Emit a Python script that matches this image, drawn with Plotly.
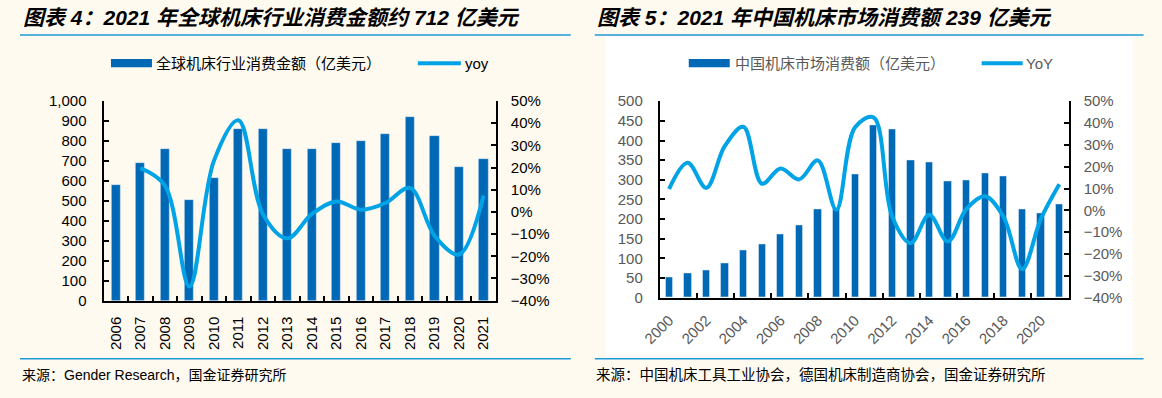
import plotly.graph_objects as go

# ---------------- data ----------------
years_g = [2006, 2007, 2008, 2009, 2010, 2011, 2012, 2013, 2014, 2015, 2016, 2017, 2018, 2019, 2020, 2021]
global_consumption = [580, 692, 761, 503, 614, 861, 858, 759, 759, 791, 801, 834, 921, 823, 670, 712]
yoy_years_g = years_g[1:]
global_yoy = [0.197, 0.119, -0.336, 0.230, 0.413, -0.010, -0.119, -0.009, 0.047, 0.010, 0.040, 0.108, -0.107, -0.192, 0.074]

years_c = list(range(2000, 2022))
china_consumption = [51, 62, 69, 88, 121, 135, 162, 185, 226, 228, 313, 440, 428, 351, 344, 296, 298, 317, 309, 226, 216, 239]
china_yoy = [0.098, 0.218, 0.103, 0.295, 0.383, 0.122, 0.192, 0.142, 0.229, 0.003, 0.380, 0.426, -0.027, -0.150, -0.020,
             -0.143, 0.007, 0.065, -0.030, -0.270, -0.040, 0.120]
china_label_years = list(range(2000, 2021, 2))

title_left = "图表 4：2021 年全球机床行业消费金额约 712 亿美元"
title_right = "图表 5：2021 年中国机床市场消费额 239 亿美元"
legend_left = ["全球机床行业消费金额（亿美元）", "yoy"]
legend_right = ["中国机床市场消费额（亿美元）", "YoY"]
source_left = "来源：Gender Research，国金证券研究所"
source_right = "来源：中国机床工具工业协会，德国机床制造商协会，国金证券研究所"

# ---------------- style ----------------
W, H = 1162, 398
BAR = "#0068B5"
LINE = "#00A3E6"
RULE = "#1E9AD6"
BG = "#FFFAF0"
FONT = "Liberation Sans, Noto Sans CJK SC, sans-serif"
GRAY = "#595959"


def px(x):
    # target pixel column -> paper fraction (compensates the horizontal fit of the capture)
    xf = (x - 19) / 0.984
    return xf / W


def py(y):
    # target pixel row -> paper fraction (compensates the vertical fit of the capture)
    yf = (y - 9) / 0.955
    return 1 - yf / H


fig = go.Figure()

fig.add_trace(go.Bar(x=years_g, y=global_consumption, marker_color=BAR, width=0.37,
                     xaxis="x", yaxis="y", showlegend=False, name=legend_left[0]))
fig.add_trace(go.Scatter(x=yoy_years_g, y=global_yoy, mode="lines", line=dict(color=LINE, width=4, shape="spline", smoothing=1.0),
                         xaxis="x", yaxis="y2", showlegend=False, name=legend_left[1]))
fig.add_trace(go.Bar(x=years_c, y=china_consumption, marker_color=BAR, width=0.39,
                     xaxis="x2", yaxis="y3", showlegend=False, name=legend_right[0]))
fig.add_trace(go.Scatter(x=years_c, y=china_yoy, mode="lines", line=dict(color=LINE, width=4, shape="spline", smoothing=1.0),
                         xaxis="x2", yaxis="y4", showlegend=False, name=legend_right[1]))

axis_common = dict(showgrid=False, zeroline=False, showline=True, linecolor="black", linewidth=2,
                   ticks="inside", ticklen=5, tickwidth=1.5, tickcolor="black")

fig.update_layout(
    width=W, height=H, autosize=False,
    margin=dict(l=0, r=0, t=0, b=0),
    paper_bgcolor=BG, plot_bgcolor="rgba(0,0,0,0)",
    bargap=0,
    font=dict(family=FONT, size=15, color="black"),
    xaxis=dict(domain=[px(103.6), px(496)], anchor="y", range=[2005.5, 2021.5],
               tickmode="array", tickvals=years_g, ticktext=[str(y) for y in years_g],
               tickangle=-90, showgrid=False, zeroline=False, showline=True, linecolor="black", linewidth=2,
               ticks="", ticklabelstandoff=8,
               minor=dict(tickmode="array", tickvals=[y + 0.5 for y in years_g[:-1]], ticks="inside",
                          ticklen=5, tickwidth=1.5, tickcolor="black"),
               tickfont=dict(size=15, color="black")),
    yaxis=dict(domain=[py(300), py(100.7)], anchor="x", range=[0, 1000], dtick=100, tick0=0,
               tickformat=",d", ticklabelstandoff=12, tickfont=dict(size=15, color="black"), **axis_common),
    yaxis2=dict(domain=[py(300), py(100.7)], anchor="x", overlaying="y", side="right", range=[-0.4, 0.5],
                dtick=0.1, tick0=-0.4, tickformat=".0%", ticklabelstandoff=10,
                tickfont=dict(size=15, color="black"), **axis_common),
    xaxis2=dict(domain=[px(660), px(1069)], anchor="y3", range=[1999.5, 2021.5],
                tickmode="array", tickvals=china_label_years, ticktext=[str(y) for y in china_label_years],
                tickangle=-45, showgrid=False, zeroline=False, showline=True, linecolor="black", linewidth=2,
                ticks="", ticklabelstandoff=6,
                minor=dict(tickmode="array", tickvals=[y + 1.5 for y in china_label_years[:-1]], ticks="inside",
                           ticklen=5, tickwidth=1.5, tickcolor="black"),
                tickfont=dict(size=15, color=GRAY)),
    yaxis3=dict(domain=[py(297), py(101)], anchor="x2", range=[0, 500], dtick=50, tick0=0,
                ticklabelstandoff=12, tickfont=dict(size=15, color=GRAY), **axis_common),
    yaxis4=dict(domain=[py(297), py(101)], anchor="x2", overlaying="y3", side="right", range=[-0.4, 0.5],
                dtick=0.1, tick0=-0.4, tickformat=".0%", ticklabelstandoff=10,
                tickfont=dict(size=15, color=GRAY), **axis_common),
)

shapes = []
# white inner panel on the right
shapes.append(dict(type="rect", xref="paper", yref="paper", x0=px(606), x1=px(1133), y0=py(355), y1=py(37),
                   fillcolor="#FFFFFF", line=dict(width=0), layer="below"))
# rules
for (x0, x1) in [(20, 571), (595, 1144)]:
    for yy in [35, 358]:
        shapes.append(dict(type="line", xref="paper", yref="paper", x0=px(x0), x1=px(x1), y0=py(yy), y1=py(yy),
                           line=dict(color=RULE, width=1.5)))
# legend swatches
shapes.append(dict(type="rect", xref="paper", yref="paper", x0=px(111), x1=px(152), y0=py(67), y1=py(59),
                   fillcolor=BAR, line=dict(width=0)))
shapes.append(dict(type="line", xref="paper", yref="paper", x0=px(418), x1=px(461), y0=py(63), y1=py(63),
                   line=dict(color=LINE, width=4)))
shapes.append(dict(type="rect", xref="paper", yref="paper", x0=px(689), x1=px(730), y0=py(67), y1=py(59),
                   fillcolor=BAR, line=dict(width=0)))
shapes.append(dict(type="line", xref="paper", yref="paper", x0=px(982), x1=px(1023), y0=py(63), y1=py(63),
                   line=dict(color=LINE, width=4)))
fig.update_layout(shapes=shapes)

ann = []


def text(x, y, s, size, color="black", anchor="left"):
    ann.append(dict(xref="paper", yref="paper", x=px(x), y=py(y), text=s, showarrow=False, align="left",
                    xanchor=anchor, yanchor="middle", font=dict(family=FONT, size=size, color=color)))


text(21, 17, "<b><i>" + title_left + "</i></b>", 21)
text(595, 17, "<b><i>" + title_right + "</i></b>", 21)
text(154, 63, legend_left[0], 15)
text(463, 63, legend_left[1], 15)
text(733, 63, legend_right[0], 15, GRAY)
text(1024, 63, legend_right[1], 15, GRAY)
text(20, 374, source_left, 14)
text(594, 374, source_right, 14.5)
fig.update_layout(annotations=ann)

# page reset: runs synchronously while the page is parsed
page_css = ("var s=document.createElement('style');"
            "s.textContent='html,body{margin:0;padding:0;overflow:hidden;background:" + BG + ";}';"
            "document.head.appendChild(s);")
fig.write_html("out.html", config={"displayModeBar": False},
               post_script="}); " + page_css + " (function(){")
